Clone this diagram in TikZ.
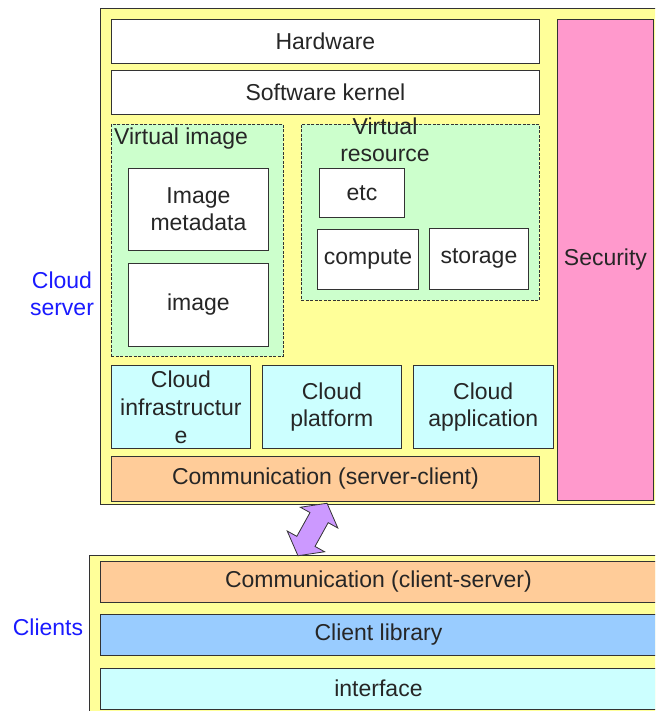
\documentclass[tikz,border=0pt]{standalone}
\usepackage{fontspec}
\setmainfont{Liberation Sans}
\usetikzlibrary{positioning, shapes.arrows, calc}
\definecolor{srvyellow}{HTML}{FFFF99}
\definecolor{commorange}{HTML}{FFCC99}
\definecolor{vgreen}{HTML}{CCFFCC}
\definecolor{svccyan}{HTML}{CCFFFF}
\definecolor{secpink}{HTML}{FF99CC}
\definecolor{libblue}{HTML}{99CCFF}
\definecolor{linkpurple}{HTML}{CC99FF}
\definecolor{sideblue}{HTML}{1A1AFF}
\definecolor{edge}{HTML}{333333}
\tikzset{%
	layer/.style={draw=edge, rectangle, inner sep=0pt, align=center, line width=0.9pt,%
		font=\fontsize{23}{27}\selectfont, text=black!85},
	plain/.style={layer, fill=white},
	svc/.style={layer, fill=svccyan, minimum width=139pt, minimum height=83pt},
	comm/.style={layer, fill=commorange},
	group/.style={draw=edge, dash pattern=on 3pt off 1.5pt, fill=vgreen, inner sep=0pt, line width=0.8pt},
	tier/.style={draw=edge, fill=srvyellow, inner sep=0pt, line width=0.9pt},
	caption/.style={inner sep=0pt, align=center, font=\fontsize{23}{27}\selectfont, text=black!85},
	side/.style={inner sep=0pt, align=center, font=\fontsize{23}{27}\selectfont, text=sideblue},
	duplex/.style={draw=edge, fill=linkpurple, shape=double arrow, line width=0.8pt,%
		inner xsep=0pt, inner ysep=10pt, minimum height=60pt,%
		double arrow head extend=11pt, double arrow tip angle=105}
}
\begin{document}
\begin{tikzpicture}[x=1pt, y=-1pt]
	\clip (0,0) rectangle (655,711);

	% server side
	\node[tier, anchor=north west, minimum width=570pt, minimum height=496pt] (server) at (100,8) {};
	\node[plain, anchor=north west, minimum width=428pt, minimum height=44pt] (hw) at (111,19) {Hardware};
	\node[plain, below=6pt of hw, minimum width=428pt, minimum height=44pt] (kernel) {Software kernel};

	\node[group, anchor=north west, minimum width=172pt, minimum height=232pt] (vimage) at (111,124) {};
	\node[caption, anchor=west] (vimgtitle) at (114,139) {Virtual image};
	\node[plain, anchor=north west, minimum width=140pt, minimum height=82pt] (imgmeta) at (128,168) {Image\\metadata};
	\node[plain, below=12pt of imgmeta, minimum width=140pt, minimum height=83pt] (img) {image};

	\node[group, anchor=north west, minimum width=238pt, minimum height=176pt] (vres) at (301,124) {};
	\node[caption] (vrestitle) at (385,140) {Virtual\\resource};
	\node[plain, anchor=north west, minimum width=85pt, minimum height=49pt] (etc) at (319,168) {etc};
	\node[plain, anchor=north west, minimum width=101pt, minimum height=60pt] (compute) at (317,229) {compute};
	\node[plain, anchor=north west, minimum width=99pt, minimum height=61pt] (storage) at (429,228) {storage};

	\node[svc, anchor=north west] (infra) at (111,365) {Cloud\\[1pt]infrastructur\\[1pt]e};
	\node[svc, right=11pt of infra] (platform) {Cloud\\platform};
	\node[svc, right=11pt of platform, minimum width=140pt] (app) {Cloud\\application};
	\node[comm, below=7pt of infra.south west, anchor=north west, minimum width=428pt, minimum height=45pt] (commsrv) {Communication (server-client)};

	\node[layer, fill=secpink, anchor=north west, minimum width=96pt, minimum height=481pt] (security) at (557,19) {Security};
	\node[side] (srvlabel) at (62,294) {Cloud\\server};

	% client side
	\node[tier, anchor=north west, minimum width=580pt, minimum height=170pt] (clients) at (89,555) {};
	\node[comm, anchor=north west, minimum width=556pt, minimum height=41pt] (commcli) at (100,561) {Communication (client-server)};
	\node[layer, fill=libblue, below=11pt of commcli, minimum width=556pt, minimum height=41pt] (lib) {Client library};
	\node[layer, fill=svccyan, below=12pt of lib, minimum width=556pt, minimum height=41pt] (iface) {interface};
	\node[side] (clilabel) at (48,627) {Clients};

	% link between the two sides
	\coordinate (srvend) at (327,503);
	\coordinate (cliend) at (298,556);
	\node[duplex, rotate=61] (link) at ($(srvend)!0.5!(cliend)$) {};
\end{tikzpicture}
\end{document}
